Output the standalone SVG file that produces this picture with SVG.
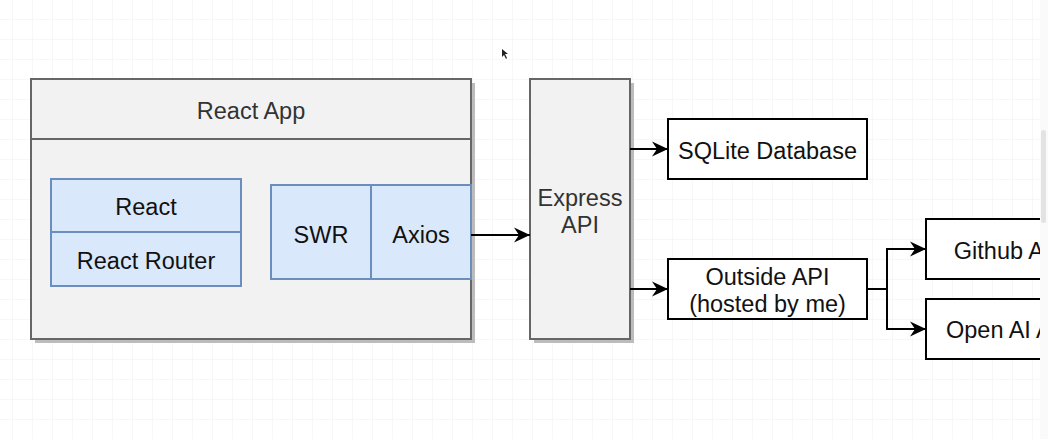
<svg xmlns="http://www.w3.org/2000/svg" width="1048" height="439" viewBox="0 0 1048 439">
<style>
.t{font-family:"Liberation Sans",Arial,sans-serif;font-size:23.5px;text-anchor:middle;fill:#111}
.g{fill:#333}
.grp{fill:#f2f2f2;stroke:#666;stroke-width:2}
.blue{fill:#dae8fc;stroke:#6c8ebf;stroke-width:2}
.box{fill:#fff;stroke:#000;stroke-width:2}
.sh{fill:#bcbcbc}
.c{fill:none;stroke:#000;stroke-width:2}
</style>
<defs>
<pattern id="grid" x="12" y="19" width="20" height="20" patternUnits="userSpaceOnUse">
<path d="M0,0 H20 M0,0 V20" fill="none" stroke="#efefef" stroke-width="1"/>
</pattern>
<marker id="ah" markerWidth="17" markerHeight="16" refX="16" refY="8" orient="auto" markerUnits="userSpaceOnUse">
<path d="M0,0.5 L16,8 L0,15.5 L5,8 Z" fill="#000"/>
</marker>
<clipPath id="vp"><rect x="0" y="0" width="1040" height="439"/></clipPath>
</defs>
<rect width="1048" height="439" fill="#fff"/>
<rect x="0" y="0" width="1048" height="439" fill="url(#grid)"/>

<g id="react-app">
<rect class="sh" x="35" y="83" width="440" height="260"/>
<rect class="grp" x="31" y="79" width="440" height="260"/>
<line x1="31" y1="139" x2="471" y2="139" stroke="#666" stroke-width="2"/>
<text class="t g" x="251" y="119">React App</text>
</g>
<g id="react">
<rect class="blue" x="51" y="179" width="190" height="53"/>
<text class="t" x="146" y="215">React</text>
</g>
<g id="react-router">
<rect class="blue" x="51" y="232" width="190" height="54"/>
<text class="t" x="146" y="269">React Router</text>
</g>
<g id="swr">
<rect class="blue" x="271" y="185" width="100" height="94"/>
<text class="t" x="321" y="243">SWR</text>
</g>
<g id="axios">
<rect class="blue" x="371" y="185" width="100" height="94"/>
<text class="t" x="421" y="243">Axios</text>
</g>
<g id="express-api">
<rect class="sh" x="534" y="83" width="100" height="260"/>
<rect class="grp" x="530" y="79" width="100" height="260"/>
<text class="t g" x="580" y="206">Express</text>
<text class="t g" x="580" y="233">API</text>
</g>
<g id="sqlite">
<rect class="box" x="668" y="119" width="199" height="60"/>
<text class="t" x="767.5" y="159">SQLite Database</text>
</g>
<g id="outside-api">
<rect class="box" x="668" y="259" width="199" height="60"/>
<text class="t" x="767.5" y="285">Outside API</text>
<text class="t" x="767.5" y="312">(hosted by me)</text>
</g>
<g clip-path="url(#vp)">
<g id="github-api">
<rect class="box" x="926" y="219" width="168" height="60"/>
<text class="t" x="1010" y="259">Github API</text>
</g>
<g id="openai-api">
<rect class="box" x="926" y="299" width="168" height="60"/>
<text class="t" x="1010" y="338">Open AI API</text>
</g>
</g>
<g id="connectors">
<path class="c" d="M471,235 H530" marker-end="url(#ah)"/>
<path class="c" d="M630,149 H668" marker-end="url(#ah)"/>
<path class="c" d="M630,289 H668" marker-end="url(#ah)"/>
<path class="c" d="M867,289 H887 V249 H926" marker-end="url(#ah)"/>
<path class="c" d="M887,289 V329 H926" marker-end="url(#ah)"/>
</g>
<rect x="1040" y="0" width="8" height="439" fill="#fafafa"/>
<rect x="1041" y="130" width="5" height="93" rx="2.5" fill="#e3e3e3"/>
<path d="M502,49 L502,57 L504,55 L506,59 L507,58 L505,54 L508,54 Z" fill="#222"/>
</svg>
